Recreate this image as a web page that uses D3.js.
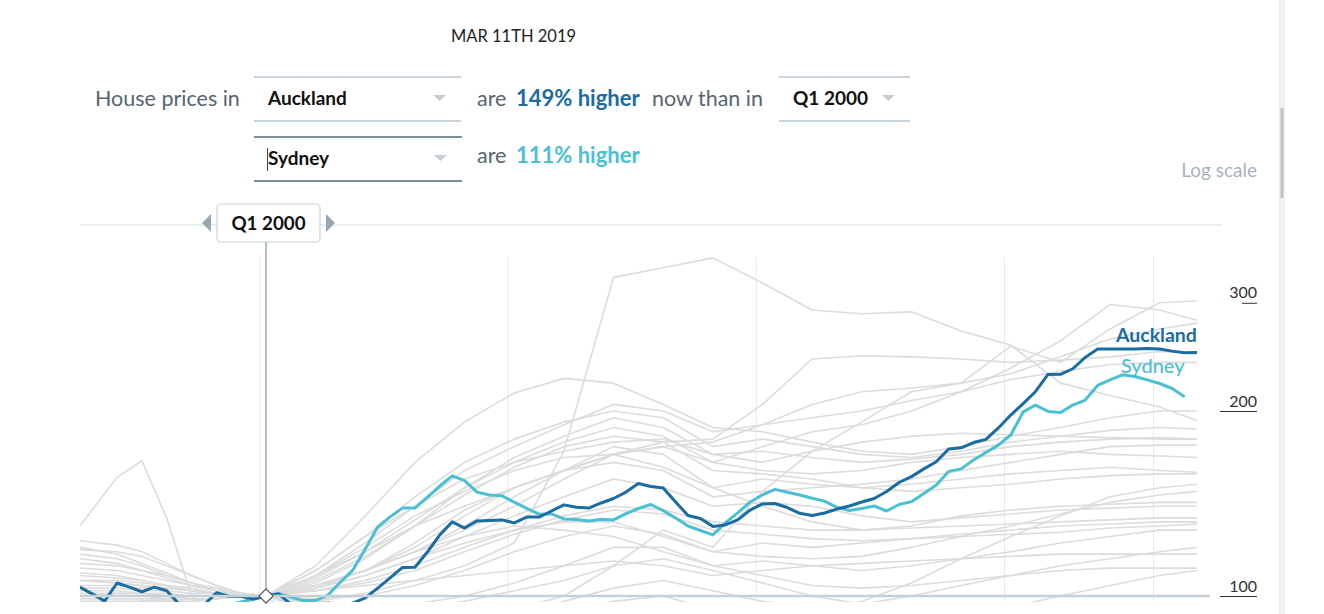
<!DOCTYPE html>
<html>
<head>
<meta charset="utf-8">
<script src="https://cdn.jsdelivr.net/npm/d3@7"></script>
<style>
  body { margin: 0; background: #fff; }
  svg text { font-family: Lato, "Open Sans", sans-serif; }
</style>
</head>
<body>
<svg id="chart" width="1324" height="614"></svg>
<script>
// quarterly index, Q1 2000 = 100
var aucklandStart = 1996.375; // Q2 1996, plotted mid-quarter
var aucklandValues = [
  103.4, 100.8, 98.1, 105.0, 103.4, 101.6, 103.4, 102.0, 97.0, 94.9, 96.7, 101.2, 99.9, 99.8, 98.9,
  100, 100.8, 97.0, 94.9, 95.6, 97.4, 96.3, 97.4, 99.3, 103.0, 107.0, 111.3, 111.4, 117.9, 125.7,
  132.0, 129.0, 132.5, 132.7, 133.0, 131.5, 134.4, 134.4, 137.5, 140.7, 139.5, 139.0, 141.7, 144.1,
  147.6, 152.4, 150.7, 149.9, 142.2, 135.2, 133.7, 129.8, 130.5, 133.0, 138.0, 141.2, 141.4, 139.3,
  136.3, 135.2, 136.5, 138.5, 140.1, 142.2, 144.1, 147.9, 153.0, 156.4, 161.0, 165.4, 173.5, 174.2,
  177.7, 179.8, 187.7, 197.0, 205.6, 215.2, 229.4, 229.5, 234.3, 244.5, 252.3, 252.3, 252.3, 252.3,
  252.8, 252.3, 250.3, 248.7, 249.0
];
var sydneyStart = 1999.125; // Q1 1999
var sydneyValues = [
  96.5, 96.8, 97.8, 98.9, 100, 101.0, 99.6, 98.3, 98.3, 100.4, 105.4, 110.2, 119.3, 129.5, 134.5,
  139.0, 139.0, 144.9, 151.0, 156.8, 154.1, 147.6, 146.0, 145.6, 142.1, 138.9, 135.9, 136.0, 133.5,
  133.2, 132.5, 133.3, 133.0, 136.2, 138.8, 140.9, 137.7, 133.9, 130.0, 127.8, 125.7, 131.5, 136.5,
  142.2, 146.0, 149.1, 147.5, 146.0, 144.2, 142.7, 139.4, 137.8, 138.8, 140.1, 137.5, 140.9, 142.4,
  146.8, 151.6, 159.5, 161.0, 166.5, 171.2, 176.0, 182.8, 199.3, 204.5, 199.7, 198.8, 204.5, 208.4,
  220.1, 224.7, 229.0, 227.6, 224.7, 221.7, 217.6, 211.0
];

// the other cities, half-yearly before 2000 then yearly
var greyTimes = [1996.375, 1997.125, 1997.625, 1998.125, 1998.625, 1999.125, 1999.625,
  2000.125, 2001.125, 2002.125, 2003.125, 2004.125, 2005.125, 2006.125, 2007.125, 2008.125,
  2009.125, 2010.125, 2011.125, 2012.125, 2013.125, 2014.125, 2015.125, 2016.125, 2017.125,
  2018.125, 2018.875];
var greySeries = [
  [92, 93, 94, 95, 95, 96, 98, 100, 98, 101, 106, 112, 122, 172, 330, 342, 355, 323, 292, 288, 290, 270, 256, 222, 212, 203, 193],
  [130, 156, 166, 134, 100, 94, 97, 100, 86, 76, 68, 80, 95, 100, 112, 128, 120, 148, 172, 192, 215, 222, 255, 240, 272, 300, 302],
  [100, 101, 101, 100, 99, 99, 100, 100, 104, 110, 120, 135, 150, 160, 170, 175, 165, 175, 185, 190, 200, 215, 235, 260, 298, 292, 281],
  [97, 97, 98, 98, 99, 99, 100, 100, 104, 110, 118, 128, 140, 155, 170, 178, 180, 205, 243, 246, 245, 243, 240, 242, 245, 250, 248],
  [106, 105, 104, 103, 102, 101, 100, 100, 112, 135, 165, 192, 214, 226, 222, 205, 188, 185, 178, 172, 170, 175, 182, 188, 195, 200, 200],
  [108, 107, 106, 104, 102, 101, 100, 100, 110, 125, 145, 165, 180, 192, 200, 195, 175, 180, 175, 170, 168, 172, 178, 182, 186, 188, 187],
  [106, 105, 104, 103, 102, 101, 100, 100, 105, 115, 130, 150, 165, 178, 188, 182, 165, 160, 158, 160, 165, 168, 170, 172, 170, 169, 168],
  [99, 99, 99, 99, 100, 100, 100, 100, 108, 120, 135, 148, 160, 168, 170, 162, 150, 155, 152, 150, 152, 155, 158, 160, 162, 160, 159],
  [103, 103, 102, 102, 101, 101, 100, 100, 104, 110, 118, 130, 145, 160, 175, 170, 150, 140, 132, 128, 130, 135, 138, 140, 141, 142, 142],
  [109, 108, 106, 104, 102, 101, 100, 100, 103, 108, 115, 125, 135, 145, 155, 150, 140, 142, 140, 135, 132, 134, 136, 138, 139, 140, 140],
  [101, 101, 101, 100, 100, 100, 100, 100, 102, 106, 112, 120, 128, 135, 140, 138, 132, 130, 128, 128, 129, 130, 131, 132, 133, 134, 134],
  [100, 100, 100, 99, 99, 99, 100, 100, 103, 108, 115, 122, 128, 132, 132, 125, 118, 122, 120, 122, 124, 125, 126, 127, 129, 130, 131],
  [98, 98, 98, 99, 99, 99, 100, 100, 104, 110, 118, 125, 130, 128, 125, 118, 112, 114, 112, 110, 112, 115, 118, 122, 125, 128, 128],
  [99, 99, 99, 99, 100, 100, 100, 100, 102, 104, 106, 108, 110, 112, 114, 112, 108, 110, 112, 113, 114, 115, 116, 117, 117, 117, 117],
  [106, 106, 105, 104, 103, 101, 100, 100, 98, 97, 97, 100, 105, 112, 120, 120, 112, 108, 104, 103, 104, 106, 108, 110, 111, 111, 111],
  [119, 118, 116, 112, 108, 104, 101, 100, 95, 92, 90, 91, 94, 98, 103, 106, 102, 98, 96, 97, 100, 104, 108, 112, 115, 118, 120],
  [113, 112, 110, 108, 105, 103, 101, 100, 94, 88, 82, 78, 76, 78, 82, 84, 80, 78, 77, 78, 79, 82, 86, 90, 94, 96, 97],
  [123, 121, 118, 113, 108, 104, 101, 100, 96, 94, 95, 98, 102, 106, 112, 115, 110, 105, 100, 97, 95, 94, 96, 100, 104, 108, 110],
  [94, 95, 96, 97, 98, 99, 100, 100, 110, 125, 140, 155, 165, 172, 178, 180, 170, 165, 172, 178, 182, 184, 183, 182, 181, 180, 180],
  [97, 97, 98, 98, 99, 99, 100, 100, 97, 95, 92, 90, 92, 95, 98, 100, 95, 92, 94, 98, 105, 115, 125, 135, 145, 150, 152],
  [96, 97, 97, 98, 98, 99, 100, 100, 108, 118, 130, 140, 150, 160, 170, 175, 178, 190, 205, 215, 218, 222, 230, 245, 262, 272, 278],
  [115, 113, 110, 107, 104, 102, 100, 100, 106, 116, 130, 146, 162, 175, 182, 178, 160, 158, 155, 150, 148, 150, 152, 155, 157, 158, 158],
  [111, 110, 108, 106, 104, 102, 101, 100, 103, 110, 122, 138, 150, 160, 165, 160, 145, 148, 150, 152, 155, 160, 165, 170, 175, 176, 176],
  [104, 104, 103, 103, 102, 101, 100, 100, 107, 118, 133, 150, 168, 182, 195, 188, 170, 172, 168, 165, 167, 170, 175, 178, 180, 181, 180],
  [120, 117, 113, 109, 105, 102, 100, 100, 102, 105, 110, 118, 126, 133, 138, 136, 128, 126, 124, 123, 124, 126, 128, 130, 131, 132, 132],
  [102, 102, 101, 101, 100, 100, 100, 100, 108, 122, 140, 160, 175, 190, 205, 200, 185, 190, 195, 200, 208, 215, 225, 232, 238, 240, 240],
  [117, 115, 112, 108, 105, 102, 100, 100, 99, 100, 104, 110, 118, 125, 130, 126, 118, 116, 115, 116, 120, 125, 130, 136, 142, 146, 148]
];

var gridYears = [2000, 2005, 2010, 2015, 2018];
var yTicks = [100, 200, 300];

var darkBlue = "#1a6ca2", lightBlue = "#4bbfd3";

var svg = d3.select("#chart");

// scales
var x = d3.scaleLinear().domain([2000, 2018]).range([259.8, 1153.5]);
var y = d3.scaleLog().domain([100, 200]).range([596, 411]);

// ---- header controls ----
svg.append("text").attr("x", 451).attr("y", 42)
  .style("font-size", "16.5px").style("fill", "#222").text("MAR 11TH 2019");

svg.append("text").attr("x", 95).attr("y", 105.5)
  .style("font-size", "21.5px").style("fill", "#55656f").text("House prices in");

function dropdown(x0, x1, top, bottom, lineColor, label, textY) {
  svg.append("line").attr("x1", x0).attr("x2", x1).attr("y1", top).attr("y2", top)
    .attr("stroke", lineColor).attr("stroke-width", 2);
  svg.append("line").attr("x1", x0).attr("x2", x1).attr("y1", bottom).attr("y2", bottom)
    .attr("stroke", lineColor).attr("stroke-width", 2);
  svg.append("text").attr("x", x0 + 14).attr("y", textY)
    .style("font-size", "19px").style("font-weight", 700).style("fill", "#111").text(label);
  var cy = (top + bottom) / 2 - 1;
  svg.append("path")
    .attr("d", "M" + (x1 - 28) + "," + (cy - 3) + "h13l-6.5,6z")
    .attr("fill", "#c3cdd3");
}
dropdown(254, 461, 77, 121, "#c9d3d9", "Auckland", 105);
dropdown(779, 910, 77, 121, "#c9d3d9", "Q1 2000", 105);
dropdown(254, 462, 137, 181, "#7f9099", "Sydney", 165);
// text cursor in the Sydney box
svg.append("line").attr("x1", 267.5).attr("x2", 267.5).attr("y1", 148).attr("y2", 171)
  .attr("stroke", "#444").attr("stroke-width", 1);

svg.append("text").attr("x", 477).attr("y", 105.5)
  .style("font-size", "21.5px").style("fill", "#55656f").text("are");
svg.append("text").attr("x", 516).attr("y", 105.5)
  .style("font-size", "22px").style("font-weight", 700).style("fill", darkBlue).text("149% higher");
svg.append("text").attr("x", 652).attr("y", 105.5)
  .style("font-size", "21.5px").style("fill", "#55656f").text("now than in");
svg.append("text").attr("x", 477).attr("y", 162.5)
  .style("font-size", "21.5px").style("fill", "#55656f").text("are");
svg.append("text").attr("x", 516).attr("y", 162.5)
  .style("font-size", "22px").style("font-weight", 700).style("fill", lightBlue).text("111% higher");

svg.append("text").attr("x", 1257).attr("y", 177).attr("text-anchor", "end")
  .style("font-size", "19px").style("fill", "#a5b3bc").text("Log scale");

// scrollbar of the page
svg.append("rect").attr("x", 1279).attr("y", 0).attr("width", 6).attr("height", 614).attr("fill", "#f1f1f1");
svg.append("rect").attr("x", 1280.5).attr("y", 108).attr("width", 3).attr("height", 90).attr("fill", "#c1c1c1");

// ---- chart frame ----
svg.append("line").attr("x1", 80).attr("x2", 1222).attr("y1", 225).attr("y2", 225)
  .attr("stroke", "#e9eef1").attr("stroke-width", 2);

svg.append("g").selectAll("line").data(gridYears).join("line")
  .attr("x1", d => x(d)).attr("x2", d => x(d))
  .attr("y1", 257).attr("y2", 601)
  .attr("stroke", "#e6ecf0").attr("stroke-width", 1);

svg.append("defs").append("clipPath").attr("id", "plot")
  .append("rect").attr("x", 80).attr("y", 240).attr("width", 1150).attr("height", 362);

var line = d3.line()
  .x(d => x(d[0]))
  .y(d => y(d[1]));

var plot = svg.append("g").attr("clip-path", "url(#plot)");

plot.append("g").selectAll("path").data(greySeries).join("path")
  .attr("d", s => line(s.map((v, i) => [greyTimes[i], v])))
  .attr("fill", "none").attr("stroke", "#dcdcdc").attr("stroke-width", 1.6)
  .attr("stroke-linejoin", "round");

// baseline at 100
svg.append("line").attr("x1", 80).attr("x2", 1210).attr("y1", y(100)).attr("y2", y(100))
  .attr("stroke", "#c5d0d7").attr("stroke-width", 2.5);

// selected date marker
var markerX = x(2000.125);
svg.append("line").attr("x1", markerX).attr("x2", markerX).attr("y1", 242).attr("y2", y(100))
  .attr("stroke", "#b3c1c9").attr("stroke-width", 2);

plot.append("path")
  .attr("d", line(sydneyValues.map((v, i) => [sydneyStart + i * 0.25, v])))
  .attr("fill", "none").attr("stroke", lightBlue).attr("stroke-width", 3)
  .attr("stroke-linejoin", "round");
plot.append("path")
  .attr("d", line(aucklandValues.map((v, i) => [aucklandStart + i * 0.25, v])))
  .attr("fill", "none").attr("stroke", darkBlue).attr("stroke-width", 3)
  .attr("stroke-linejoin", "round");

svg.append("rect")
  .attr("x", markerX - 5).attr("y", y(100) - 5).attr("width", 10).attr("height", 10)
  .attr("transform", "rotate(45," + markerX + "," + y(100) + ")")
  .attr("fill", "#fff").attr("stroke", "#555").attr("stroke-width", 1.2);

// date label box with arrows
svg.append("rect").attr("x", 217).attr("y", 204).attr("width", 103).attr("height", 38).attr("rx", 4)
  .attr("fill", "#fff").attr("stroke", "#c8d2d8").attr("stroke-width", 1.2);
svg.append("text").attr("x", 268.5).attr("y", 229.5).attr("text-anchor", "middle")
  .style("font-size", "18.8px").style("font-weight", 700).style("fill", "#111").text("Q1 2000");
svg.append("path").attr("d", "M211,214v18l-9,-9z").attr("fill", "#98a8b2");
svg.append("path").attr("d", "M326,214v18l9,-9z").attr("fill", "#98a8b2");

// series labels
var lastA = aucklandValues.length - 1, lastS = sydneyValues.length - 1;
svg.append("text")
  .attr("x", x(aucklandStart + lastA * 0.25)).attr("y", y(aucklandValues[lastA]) - 11)
  .attr("text-anchor", "end")
  .style("font-size", "19.5px").style("font-weight", 700).style("fill", darkBlue).text("Auckland");
svg.append("text")
  .attr("x", x(sydneyStart + lastS * 0.25)).attr("y", y(sydneyValues[lastS]) - 23.5)
  .attr("text-anchor", "end")
  .style("font-size", "20px").style("font-weight", 500).style("fill", lightBlue).text("Sydney");

// y axis on the right, labels sit on top of their tick
var yAxis = d3.axisLeft(y).tickValues(yTicks).tickFormat(d3.format("d")).tickSize(37).tickPadding(0);
var gy = svg.append("g").attr("transform", "translate(1257,0)").call(yAxis);
gy.select(".domain").remove();
gy.selectAll(".tick line").attr("x2", d => d === 300 ? -15 : -37).attr("stroke", "#333");
gy.selectAll(".tick text").attr("x", 0).attr("dy", -5)
  .style("font-size", "16px").style("fill", "#333").style("font-family", "Lato, sans-serif");
</script>
</body>
</html>
